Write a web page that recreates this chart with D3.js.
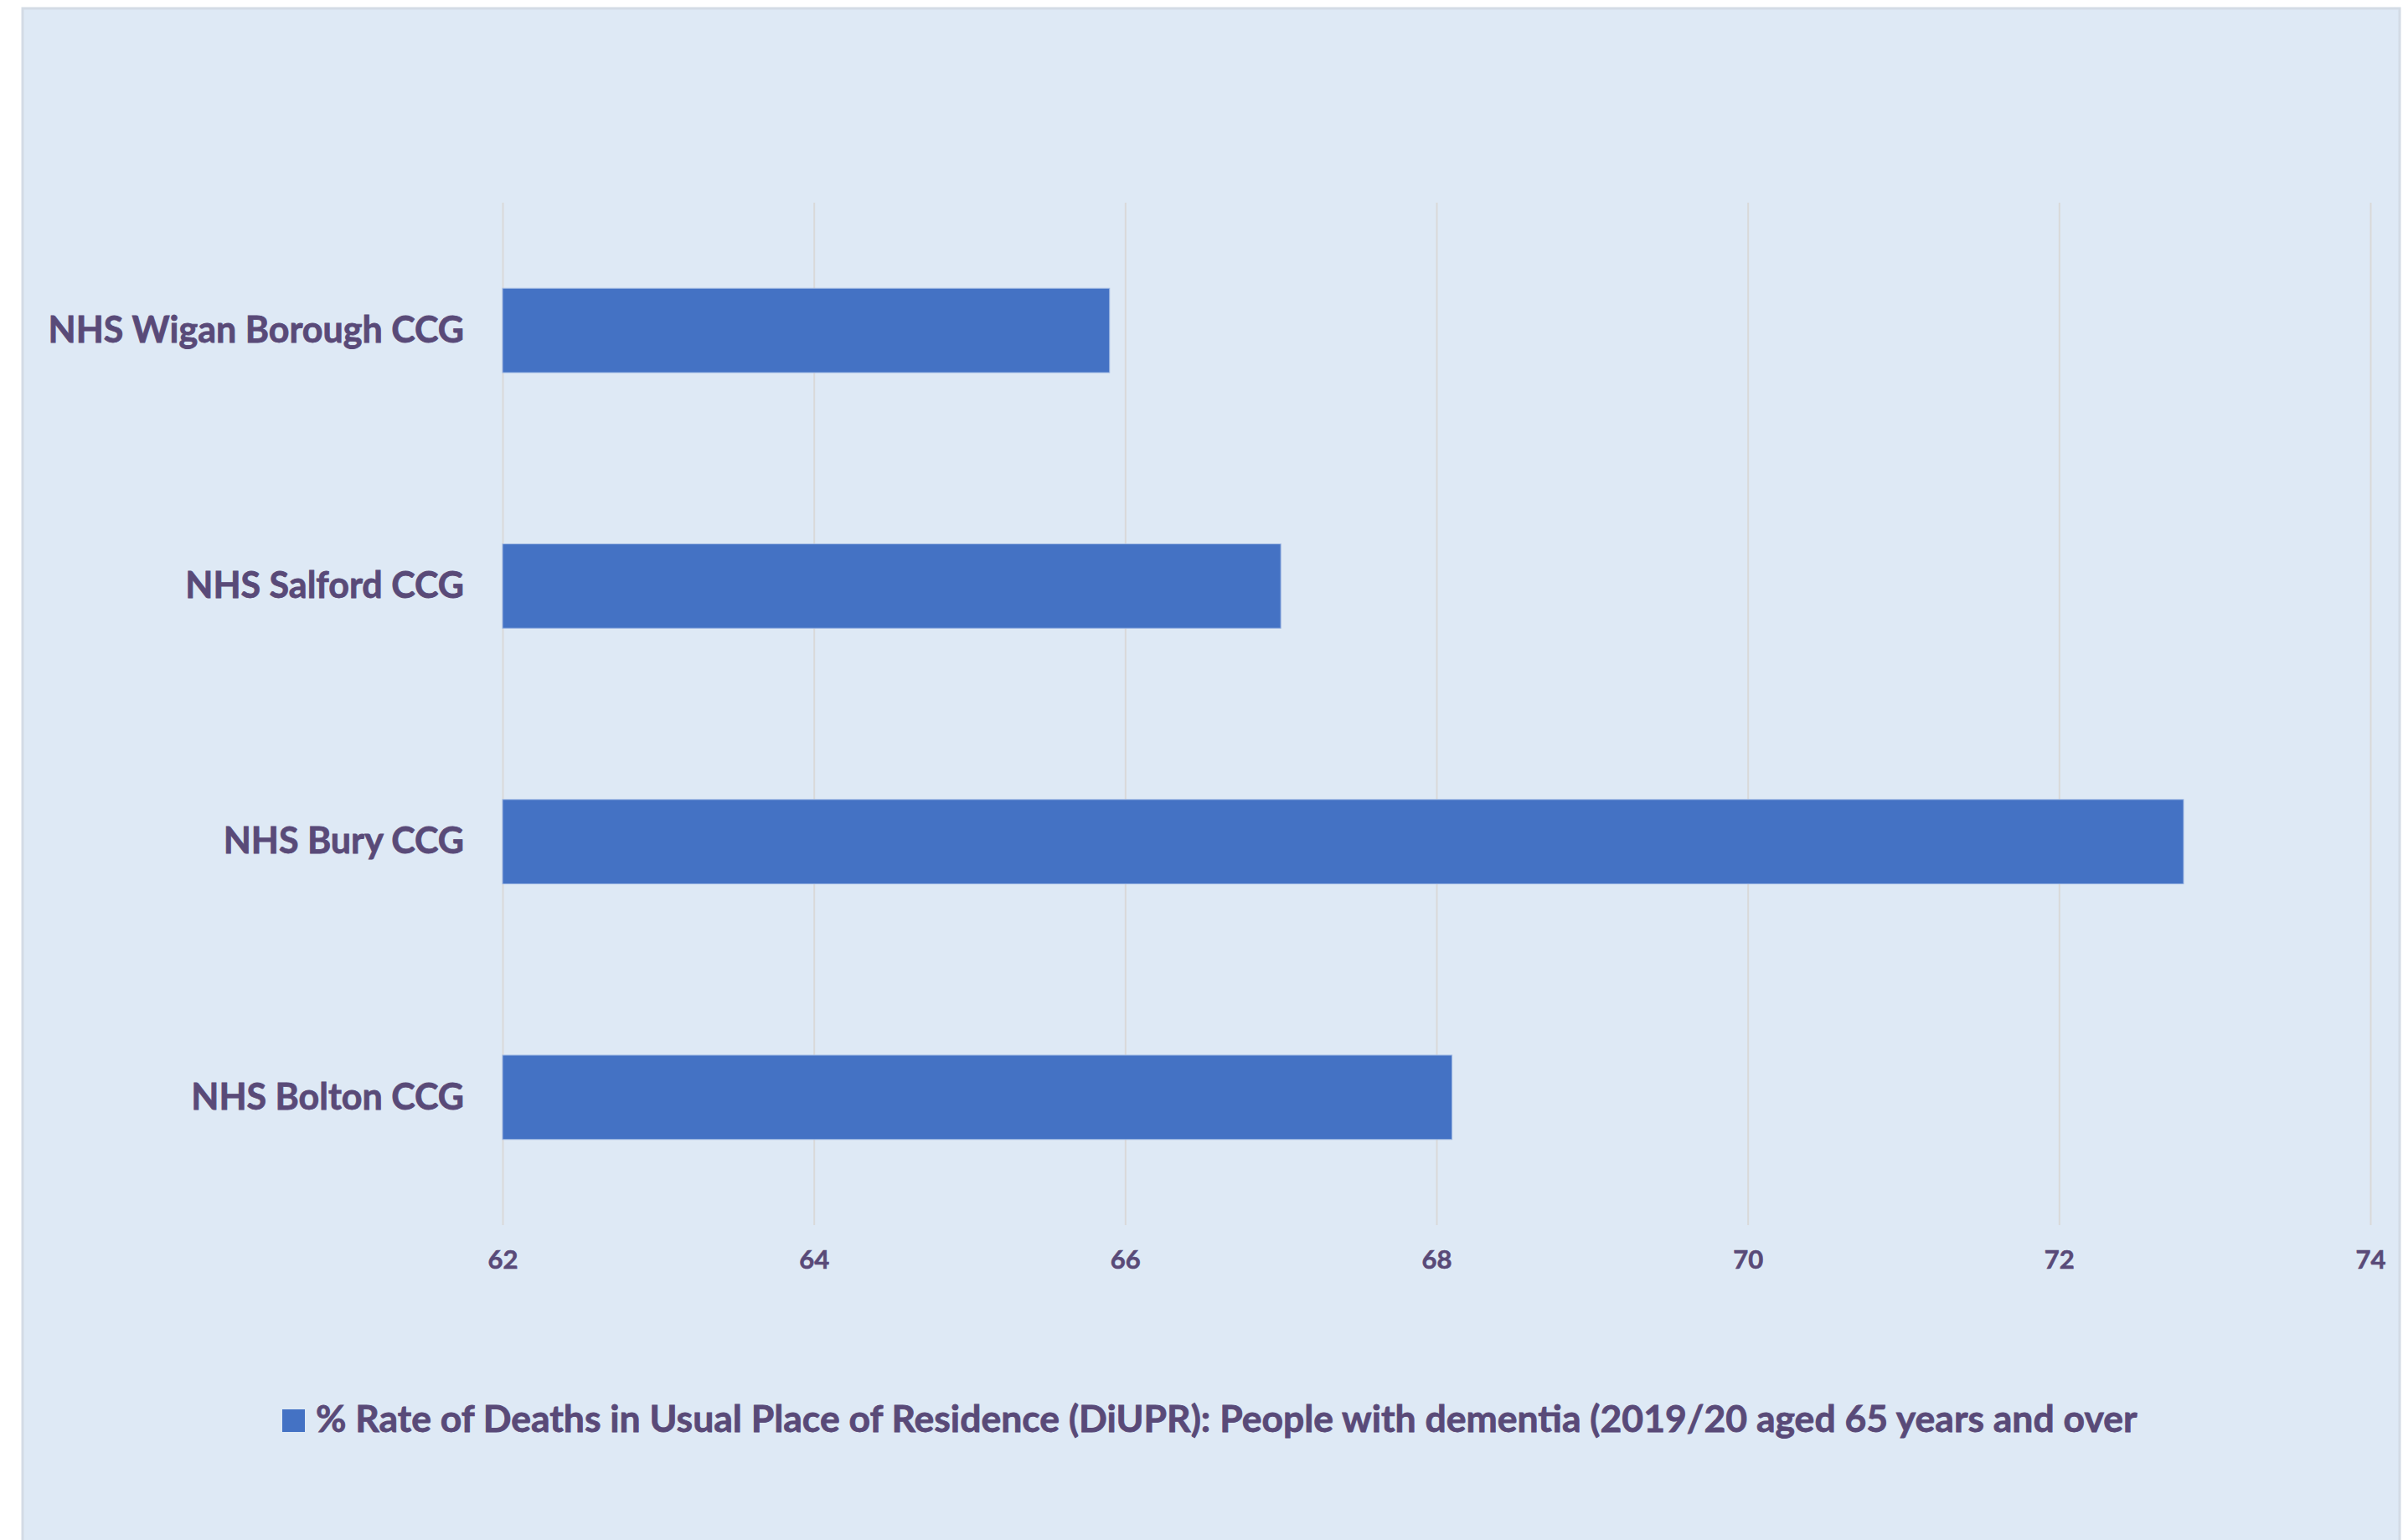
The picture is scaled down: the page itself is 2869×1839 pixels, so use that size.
<!DOCTYPE html>
<html>
<head>
<meta charset="utf-8">
<script src="https://cdn.jsdelivr.net/npm/d3@7"></script>
<style>
  body { margin: 0; background: #ffffff; }
  svg { display: block; }
</style>
</head>
<body>
<svg id="chart"></svg>
<script>
var width = 2869;
var height = 1839;

var categories = ["NHS Wigan Borough CCG", "NHS Salford CCG", "NHS Bury CCG", "NHS Bolton CCG"];
var values = [65.9, 67.0, 72.8, 68.1];
var xTicks = [62, 64, 66, 68, 70, 72, 74];
var seriesName = "% Rate of Deaths in Usual Place of Residence (DiUPR): People with dementia (2019/20 aged 65 years and over";

var textColor = "#594a78";
var barColor = "#4472c4";
var fontName = "Lato, 'Open Sans', sans-serif";

var plotLeft = 600, plotRight = 2830, plotTop = 242, plotBottom = 1463;

var svg = d3.select("#chart")
    .attr("width", width)
    .attr("height", height);

svg.append("rect")
    .attr("x", 27)
    .attr("y", 10)
    .attr("width", 2838)
    .attr("height", 1850)
    .attr("fill", "#dee9f5")
    .attr("stroke", "#d3dbe5")
    .attr("stroke-width", 3);

var x = d3.scaleLinear()
    .domain([62, 74])
    .range([plotLeft, plotRight]);

var y = d3.scaleBand()
    .domain(categories)
    .range([plotTop, plotBottom])
    .paddingInner(0.67)
    .paddingOuter(0.335);

// gridlines + tick labels
var xAxis = svg.append("g")
    .attr("transform", "translate(0," + plotBottom + ")")
    .call(d3.axisBottom(x)
        .tickValues(xTicks)
        .tickSize(-(plotBottom - plotTop))
        .tickPadding(30)
        .tickFormat(d3.format("d")));
xAxis.select(".domain").remove();
xAxis.selectAll(".tick line")
    .attr("stroke", "#d9d9d9")
    .attr("stroke-width", 2);
xAxis.selectAll(".tick text")
    .attr("fill", textColor)
    .attr("stroke", textColor)
    .attr("stroke-width", 0.6)
    .style("font-family", fontName)
    .style("font-weight", "bold")
    .style("font-size", "31px");

svg.selectAll(".bar")
    .data(values)
    .enter().append("rect")
    .attr("class", "bar")
    .attr("x", x(62))
    .attr("y", function(d, i){ return y(categories[i]); })
    .attr("width", function(d){ return x(d) - x(62); })
    .attr("height", y.bandwidth())
    .attr("fill", barColor)
    .attr("stroke", "#9fb8e3")
    .attr("stroke-width", 1);

var yAxis = svg.append("g")
    .attr("transform", "translate(" + plotLeft + ",0)")
    .call(d3.axisLeft(y).tickSize(0).tickPadding(46));
yAxis.select(".domain").remove();
yAxis.selectAll(".tick text")
    .attr("fill", textColor)
    .attr("stroke", textColor)
    .attr("stroke-width", 0.8)
    .attr("dy", "0.33em")
    .style("font-family", fontName)
    .style("font-weight", "bold")
    .style("font-size", "43px");

// legend
var legend = svg.append("g");
legend.append("rect")
    .attr("x", 337)
    .attr("y", 1683)
    .attr("width", 27)
    .attr("height", 27)
    .attr("fill", barColor);
legend.append("text")
    .attr("x", 377)
    .attr("y", 1710)
    .attr("fill", textColor)
    .attr("stroke", textColor)
    .attr("stroke-width", 0.8)
    .style("font-family", fontName)
    .style("font-weight", "bold")
    .style("font-size", "44.5px")
    .text(seriesName);
</script>
</body>
</html>
